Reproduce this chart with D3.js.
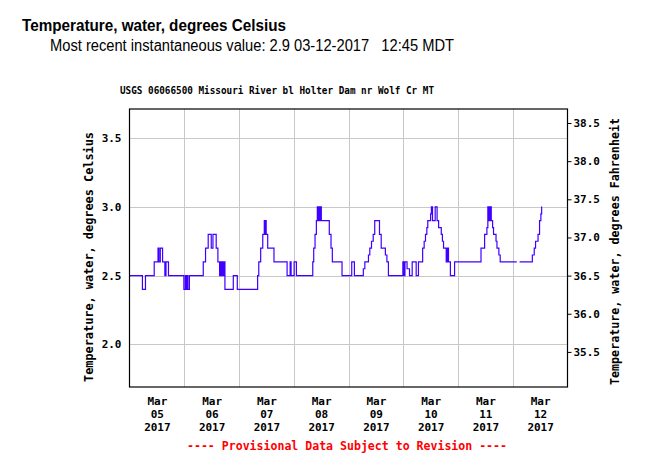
<!DOCTYPE html>
<html>
<head>
<meta charset="utf-8">
<script src="https://cdn.jsdelivr.net/npm/d3@7"></script>
<style>
  html, body { margin: 0; padding: 0; background: #fff; }
  svg { display: block; }
</style>
</head>
<body>
<svg id="chart" width="654" height="463"></svg>
<script>
// ---------------- DATA ----------------
const titleText = "Temperature, water, degrees Celsius";
const subtitleText = "Most recent instantaneous value: 2.9 03-12-2017   12:45 MDT";
const chartTitle = "USGS 06066500 Missouri River bl Holter Dam nr Wolf Cr MT";
const leftAxisTitle = "Temperature, water, degrees Celsius";
const rightAxisTitle = "Temperature, water, degrees Fahrenheit";
const footnote = "---- Provisional Data Subject to Revision ----";

const dayLabels = ["05", "06", "07", "08", "09", "10", "11", "12"];
const monthLabel = "Mar";
const yearLabel = "2017";
const celsiusTicks = [2.0, 2.5, 3.0, 3.5];
const fahrenheitTicks = [35.5, 36.0, 36.5, 37.0, 37.5, 38.0, 38.5];

// step change points (local clock time, 2017) and water temperature (deg C); null = missing (DST gap)
const times = [
  "03-05 00:00","03-05 05:40","03-05 07:00","03-05 10:50","03-05 12:30","03-05 12:55","03-05 13:30","03-05 14:30",
  "03-05 15:30","03-05 16:00","03-05 17:05","03-05 23:50","03-06 00:30","03-06 00:45","03-06 01:10","03-06 01:35",
  "03-06 02:15","03-06 08:20","03-06 09:20","03-06 10:30","03-06 11:50","03-06 12:35","03-06 14:00","03-06 14:45",
  "03-06 15:30","03-06 15:50","03-06 16:15","03-06 16:35","03-06 17:00","03-06 17:20","03-06 17:50","03-06 21:30",
  "03-06 23:15","03-07 08:10","03-07 08:40","03-07 09:30","03-07 10:25","03-07 11:05","03-07 11:20","03-07 11:35",
  "03-07 11:55","03-07 12:35","03-07 15:20","03-07 21:05","03-07 22:25","03-07 22:50","03-08 00:10","03-08 01:10",
  "03-08 08:20","03-08 08:45","03-08 09:20","03-08 09:55","03-08 10:20","03-08 10:35","03-08 10:50","03-08 11:05",
  "03-08 11:20","03-08 11:35","03-08 11:50","03-08 12:05","03-08 15:35","03-08 16:20","03-08 16:55","03-08 21:10",
  "03-09 01:25","03-09 02:35","03-09 06:30","03-09 07:10","03-09 08:45","03-09 09:20","03-09 10:05","03-09 10:50",
  "03-09 11:30","03-09 13:35","03-09 14:20","03-09 16:10","03-09 16:50","03-09 17:30","03-09 23:50","03-10 00:05",
  "03-10 00:15","03-10 00:30","03-10 00:45","03-10 01:40","03-10 02:45","03-10 03:55","03-10 05:40","03-10 06:40",
  "03-10 08:30","03-10 09:10","03-10 09:45","03-10 10:20","03-10 10:45","03-10 12:00","03-10 12:20","03-10 12:50",
  "03-10 14:00","03-10 14:50","03-10 15:30","03-10 16:40","03-10 17:10","03-10 17:40","03-10 18:50","03-10 19:00",
  "03-10 19:15","03-10 19:30","03-10 19:50","03-10 20:40","03-10 22:30","03-11 10:05","03-11 11:40","03-11 12:40",
  "03-11 13:05","03-11 13:20","03-11 13:35","03-11 13:50","03-11 14:05","03-11 14:35","03-11 15:10","03-11 15:35",
  "03-11 16:40","03-11 17:05","03-11 17:55","03-11 18:30","03-12 01:45","03-12 02:00","03-12 03:00","03-12 08:35",
  "03-12 09:25","03-12 10:00","03-12 11:05","03-12 11:45","03-12 12:20","03-12 12:40","03-12 12:45"
];
const values = [
  2.5,2.4,2.5,2.6,2.7,2.6,2.7,2.6,
  2.5,2.6,2.5,2.4,2.5,2.4,2.5,2.4,
  2.5,2.6,2.7,2.8,2.7,2.8,2.7,2.6,
  2.5,2.6,2.5,2.6,2.5,2.6,2.4,2.5,
  2.4,2.5,2.6,2.7,2.8,2.9,2.8,2.9,
  2.8,2.7,2.6,2.5,2.6,2.5,2.6,2.5,
  2.6,2.7,2.8,2.9,3.0,2.9,3.0,2.9,
  3.0,2.9,3.0,2.9,2.8,2.7,2.6,2.5,
  2.6,2.5,2.55,2.6,2.65,2.7,2.75,2.8,
  2.9,2.8,2.7,2.65,2.6,2.5,2.6,2.5,
  2.6,2.5,2.6,2.55,2.5,2.6,2.5,2.6,
  2.7,2.75,2.8,2.85,2.9,2.95,3.0,2.9,
  3.0,2.9,2.85,2.8,2.75,2.7,2.6,2.7,
  2.6,2.7,2.6,2.5,2.6,2.7,2.8,2.85,
  3.0,2.9,3.0,2.9,3.0,2.9,2.85,2.8,
  2.75,2.7,2.65,2.6,2.6,null,2.6,2.65,
  2.7,2.75,2.8,2.9,2.95,3.0,3.0
];

// ---------------- CHART ----------------
const svg = d3.select("#chart");
const parse = d3.utcParse("%Y-%m-%d %H:%M");
const data = times.map((t, i) => ({ t: parse("2017-" + t), v: values[i] }));

const plot = { left: 129.5, right: 567.5, top: 109, bottom: 387 };
const x = d3.scaleUtc()
  .domain([parse("2017-03-05 00:00"), parse("2017-03-13 00:00")])
  .range([plot.left, plot.right]);
const y = d3.scaleLinear().domain([1.689, 3.713]).range([plot.bottom, plot.top]);
const yF = d3.scaleLinear().domain(y.domain().map(c => c * 1.8 + 32)).range([plot.bottom, plot.top]);

const mono = "'DejaVu Sans Mono', 'Liberation Mono', monospace";
const sans = "'Liberation Sans', Arial, sans-serif";

// Titles
svg.append("text").attr("x", 22).attr("y", 30.5)
  .attr("font-family", sans).attr("font-weight", "bold").attr("font-size", 16)
  .attr("textLength", 264).attr("lengthAdjust", "spacingAndGlyphs")
  .attr("fill", "#000").text(titleText);
svg.append("text").attr("x", 50).attr("y", 50.5)
  .attr("xml:space", "preserve").style("white-space", "pre")
  .attr("font-family", sans).attr("font-size", 16)
  .attr("textLength", 404).attr("lengthAdjust", "spacingAndGlyphs")
  .attr("fill", "#000").text(subtitleText);
svg.append("text").attr("x", 277).attr("y", 94).attr("text-anchor", "middle")
  .attr("font-family", mono).attr("font-weight", "bold").attr("font-size", 11)
  .attr("textLength", 314).attr("lengthAdjust", "spacingAndGlyphs")
  .attr("fill", "#000").text(chartTitle);

// Gridlines
const gridDays = d3.utcDay.range(parse("2017-03-06 00:00"), parse("2017-03-13 00:00"));
svg.append("g").attr("transform", `translate(0,${plot.bottom})`)
  .call(d3.axisBottom(x).tickValues(gridDays).tickSize(-(plot.bottom - plot.top)).tickFormat(""))
  .call(g => g.select(".domain").remove())
  .call(g => g.selectAll("line").attr("stroke", "#c8c8c8").attr("stroke-width", 1).attr("shape-rendering", "crispEdges"));
svg.append("g").attr("transform", `translate(${plot.left},0)`)
  .call(d3.axisLeft(y).tickValues(celsiusTicks).tickSize(-(plot.right - plot.left)).tickFormat(""))
  .call(g => g.select(".domain").remove())
  .call(g => g.selectAll("line").attr("stroke", "#c8c8c8").attr("stroke-width", 1).attr("shape-rendering", "crispEdges"));

// Data line
const line = d3.line()
  .defined(d => d.v != null)
  .x(d => x(d.t))
  .y(d => y(d.v))
  .curve(d3.curveStepAfter);
svg.append("path").datum(data)
  .attr("fill", "none").attr("stroke", "#4000ff").attr("stroke-width", 1.2)
  .attr("d", line);

// Frame
svg.append("rect")
  .attr("x", plot.left).attr("y", plot.top)
  .attr("width", plot.right - plot.left).attr("height", plot.bottom - plot.top)
  .attr("fill", "none").attr("stroke", "#000").attr("stroke-width", 1.2);

// Left axis (Celsius)
svg.append("g").attr("transform", `translate(${plot.left},0)`)
  .call(d3.axisLeft(y).tickValues(celsiusTicks).tickSize(0).tickPadding(8).tickFormat(d3.format(".1f")))
  .call(g => g.select(".domain").remove())
  .call(g => g.selectAll("text").attr("font-family", mono).attr("font-weight", "bold").attr("font-size", 11).attr("fill", "#000"));

// Right axis (Fahrenheit)
svg.append("g").attr("transform", `translate(${plot.right},0)`)
  .call(d3.axisRight(yF).tickValues(fahrenheitTicks).tickSize(4).tickPadding(2).tickFormat(d3.format(".1f")))
  .call(g => g.select(".domain").remove())
  .call(g => g.selectAll("line").attr("stroke", "#000"))
  .call(g => g.selectAll("text").attr("font-family", mono).attr("font-weight", "bold").attr("font-size", 11).attr("fill", "#000"));

// Bottom axis labels (noon of each day)
const noonDays = dayLabels.map(d => parse(`2017-03-${d} 12:00`));
const xAxisG = svg.append("g").attr("transform", `translate(0,${plot.bottom})`)
  .call(d3.axisBottom(x).tickValues(noonDays).tickSize(0).tickFormat(""))
  .call(g => g.select(".domain").remove());
xAxisG.selectAll(".tick text")
  .attr("font-family", mono).attr("font-weight", "bold").attr("font-size", 11).attr("fill", "#000")
  .attr("dy", null).attr("y", 0)
  .each(function(d, i) {
    const t = d3.select(this);
    [monthLabel, dayLabels[i], yearLabel].forEach((s, k) => {
      t.append("tspan").attr("x", 0).attr("y", 18 + k * 13).text(s);
    });
  });

// Axis titles
svg.append("text")
  .attr("transform", "translate(93,257) rotate(-90)")
  .attr("text-anchor", "middle")
  .attr("font-family", mono).attr("font-weight", "bold").attr("font-size", 12)
  .attr("textLength", 250).attr("lengthAdjust", "spacingAndGlyphs")
  .attr("fill", "#000").text(leftAxisTitle);
svg.append("text")
  .attr("transform", "translate(619,251.5) rotate(-90)")
  .attr("text-anchor", "middle")
  .attr("font-family", mono).attr("font-weight", "bold").attr("font-size", 12)
  .attr("textLength", 267).attr("lengthAdjust", "spacingAndGlyphs")
  .attr("fill", "#000").text(rightAxisTitle);

// Footnote
svg.append("text").attr("x", 347).attr("y", 450).attr("text-anchor", "middle")
  .attr("font-family", mono).attr("font-weight", "bold").attr("font-size", 11.5)
  .attr("textLength", 320).attr("lengthAdjust", "spacingAndGlyphs")
  .attr("fill", "#ff0000").text(footnote);
</script>
</body>
</html>
